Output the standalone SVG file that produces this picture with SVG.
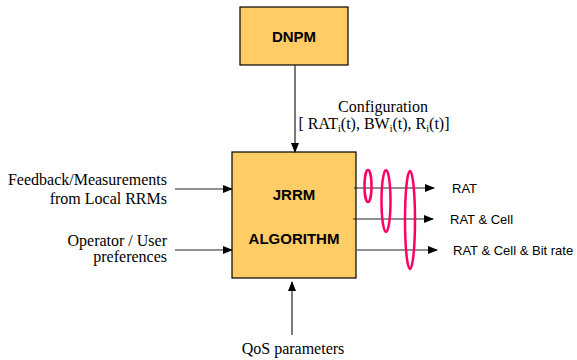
<svg xmlns="http://www.w3.org/2000/svg" width="577" height="360" viewBox="0 0 577 360">
<style>
.box{fill:#FFCC66;stroke:#000;stroke-width:1.2}
.bt{font-family:"Liberation Sans",Arial,sans-serif;font-weight:bold;font-size:15px;text-anchor:middle;fill:#000}
.tt{font-family:"Liberation Serif","Times New Roman",serif;font-size:16px;fill:#000}
.at{font-family:"Liberation Sans",Arial,sans-serif;font-size:13px;fill:#000}
.ln{stroke:#222;stroke-width:1.2;fill:none}
.el{fill:none;stroke:#FF0066;stroke-width:2.5}
</style>
<defs>
<marker id="ah" markerWidth="10" markerHeight="8" refX="9" refY="4" orient="auto" markerUnits="userSpaceOnUse">
<path d="M0,0 L10,4 L0,8 Z" fill="#000"/>
</marker>
</defs>
<rect width="577" height="360" fill="#fff"/>
<g id="dnpm">
<rect class="box" x="240" y="7" width="108" height="58"/>
<text class="bt" x="294" y="42">DNPM</text>
</g>
<g id="jrrm">
<rect class="box" x="232" y="152" width="124" height="126"/>
<text class="bt" x="294" y="200">JRRM</text>
<text class="bt" x="294" y="244">ALGORITHM</text>
</g>
<g id="connectors">
<line class="ln" x1="295" y1="65" x2="295" y2="152" marker-end="url(#ah)"/>
<line class="ln" x1="175" y1="189" x2="232" y2="189" marker-end="url(#ah)"/>
<line class="ln" x1="175" y1="250" x2="232" y2="250" marker-end="url(#ah)"/>
<line class="ln" x1="292" y1="335" x2="292" y2="282" marker-end="url(#ah)"/>
<line class="ln" x1="354" y1="188" x2="434" y2="188" marker-end="url(#ah)"/>
<line class="ln" x1="353" y1="219" x2="433" y2="219" marker-end="url(#ah)"/>
<line class="ln" x1="357" y1="250" x2="437" y2="250" marker-end="url(#ah)"/>
</g>
<g id="groupings">
<ellipse class="el" cx="368" cy="186" rx="3.5" ry="16"/>
<ellipse class="el" cx="386" cy="201" rx="4.5" ry="31"/>
<ellipse class="el" cx="410" cy="220" rx="5" ry="49"/>
</g>
<g id="labels">
<text class="tt" x="383" y="112" text-anchor="middle">Configuration</text>
<text class="tt" x="374" y="129" text-anchor="middle">[ RAT<tspan font-size="10" dy="3">i</tspan><tspan dy="-3">(t), BW</tspan><tspan font-size="10" dy="3">i</tspan><tspan dy="-3">(t), R</tspan><tspan font-size="10" dy="3">i</tspan><tspan dy="-3">(t)]</tspan></text>
<text class="tt" x="167" y="185" text-anchor="end">Feedback/Measurements</text>
<text class="tt" x="167" y="204" text-anchor="end">from Local RRMs</text>
<text class="tt" x="167" y="246" text-anchor="end">Operator / User</text>
<text class="tt" x="167" y="262" text-anchor="end">preferences</text>
<text class="tt" x="293" y="354" text-anchor="middle">QoS parameters</text>
<text class="at" x="452" y="193">RAT</text>
<text class="at" x="450" y="224">RAT &amp; Cell</text>
<text class="at" x="453" y="255">RAT &amp; Cell &amp; Bit rate</text>
</g>
</svg>
